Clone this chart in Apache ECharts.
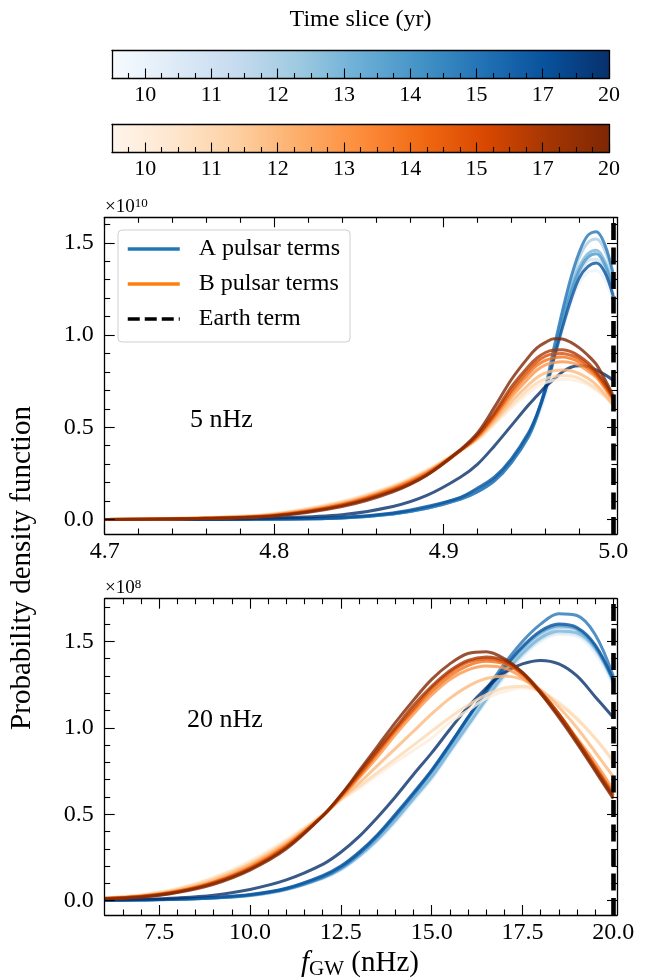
<!DOCTYPE html>
<html><head><meta charset="utf-8">
<script src="https://cdn.jsdelivr.net/npm/echarts@6/dist/echarts.min.js"></script>
<style>html,body{margin:0;padding:0;background:#fff}#c{width:647px;height:978px}</style>
</head><body><div id="c"></div>
<script>
// ---------------- data ----------------
const slices = [10, 11, 12, 13, 14, 15, 17, 20];          // colorbar tick labels (yr)
const cbTickPos = [2, 6, 10, 14, 18, 22, 26, 30];          // their positions along colorbar
const cbRange = [0, 30];
const earth5 = 5.0;
const earth20 = 20.0;

const f5 = [4.70, 4.76, 4.80, 4.84, 4.87, 4.89, 4.91, 4.92, 4.93, 4.94, 4.95, 4.955, 4.96, 4.965, 4.97, 4.975, 4.98, 4.985, 4.99, 4.995, 5.0];
const pdfA5 = [
  [0,0,0.002,0.008,0.03,0.06,0.11,0.15,0.21,0.31,0.44,0.54,0.67,0.85,1.02,1.17,1.28,1.34,1.35,1.30,1.18],
  [0,0,0.002,0.008,0.03,0.06,0.11,0.15,0.21,0.31,0.45,0.55,0.69,0.88,1.06,1.22,1.33,1.40,1.41,1.35,1.22],
  [0,0,0.002,0.008,0.03,0.06,0.11,0.15,0.21,0.31,0.45,0.56,0.71,0.91,1.11,1.28,1.42,1.50,1.52,1.46,1.31],
  [0,0,0.002,0.008,0.03,0.06,0.11,0.15,0.21,0.31,0.45,0.56,0.70,0.89,1.08,1.25,1.37,1.44,1.46,1.40,1.26],
  [0,0,0.002,0.009,0.032,0.065,0.12,0.16,0.22,0.32,0.46,0.57,0.71,0.89,1.07,1.23,1.35,1.42,1.44,1.38,1.25],
  [0,0,0.002,0.008,0.03,0.06,0.11,0.15,0.21,0.31,0.45,0.56,0.72,0.93,1.13,1.31,1.45,1.54,1.56,1.49,1.33],
  [0,0,0.003,0.01,0.035,0.07,0.12,0.17,0.23,0.33,0.47,0.57,0.70,0.87,1.04,1.19,1.31,1.37,1.39,1.34,1.21],
  [0,0.002,0.008,0.025,0.07,0.13,0.23,0.30,0.40,0.51,0.62,0.67,0.72,0.76,0.80,0.825,0.833,0.828,0.81,0.785,0.755]
];
const pdfB5 = [
  [0,0.011,0.033,0.10,0.185,0.27,0.375,0.43,0.515,0.605,0.685,0.72,0.742,0.755,0.76,0.758,0.748,0.73,0.70,0.665,0.62],
  [0,0.01,0.03,0.095,0.18,0.265,0.375,0.435,0.525,0.62,0.705,0.74,0.762,0.775,0.78,0.778,0.765,0.74,0.71,0.67,0.62],
  [0,0.009,0.028,0.09,0.175,0.26,0.375,0.44,0.535,0.64,0.73,0.77,0.795,0.806,0.81,0.806,0.79,0.765,0.73,0.68,0.62],
  [0,0.008,0.025,0.085,0.17,0.255,0.375,0.445,0.55,0.665,0.765,0.81,0.838,0.85,0.855,0.85,0.835,0.805,0.77,0.71,0.64],
  [0,0.007,0.023,0.08,0.165,0.25,0.375,0.45,0.56,0.685,0.79,0.835,0.862,0.876,0.88,0.872,0.853,0.82,0.78,0.72,0.65],
  [0,0.006,0.021,0.078,0.16,0.245,0.375,0.455,0.57,0.70,0.81,0.855,0.885,0.898,0.90,0.89,0.87,0.835,0.79,0.73,0.66],
  [0,0.006,0.02,0.075,0.155,0.24,0.375,0.46,0.58,0.72,0.83,0.875,0.905,0.918,0.92,0.91,0.885,0.85,0.80,0.74,0.66],
  [0,0.005,0.018,0.07,0.15,0.24,0.38,0.47,0.61,0.76,0.88,0.93,0.96,0.98,0.978,0.96,0.93,0.89,0.84,0.76,0.67]
];

const f20 = [6, 7, 8, 9, 10, 11, 12, 12.5, 13, 13.5, 14, 14.5, 15, 15.5, 16, 16.5, 17, 17.5, 18, 18.5, 19, 19.5, 20];
const pdfA20 = [
  [0.002,0.004,0.008,0.015,0.028,0.062,0.125,0.175,0.25,0.34,0.45,0.575,0.70,0.85,1.00,1.15,1.29,1.41,1.50,1.54,1.53,1.43,1.24],
  [0.002,0.004,0.008,0.015,0.029,0.064,0.13,0.18,0.255,0.35,0.46,0.585,0.71,0.86,1.01,1.16,1.30,1.42,1.51,1.55,1.54,1.45,1.26],
  [0.002,0.004,0.008,0.016,0.03,0.066,0.133,0.185,0.26,0.355,0.47,0.595,0.72,0.87,1.02,1.17,1.32,1.44,1.53,1.58,1.57,1.47,1.28],
  [0.002,0.004,0.008,0.016,0.03,0.065,0.131,0.182,0.258,0.352,0.465,0.59,0.715,0.865,1.015,1.165,1.31,1.43,1.52,1.56,1.55,1.46,1.27],
  [0.002,0.004,0.009,0.017,0.033,0.07,0.14,0.195,0.275,0.375,0.49,0.615,0.745,0.895,1.05,1.20,1.34,1.46,1.55,1.59,1.57,1.47,1.27],
  [0.002,0.004,0.008,0.016,0.031,0.067,0.135,0.19,0.27,0.37,0.49,0.615,0.75,0.90,1.06,1.22,1.37,1.50,1.60,1.66,1.65,1.54,1.30],
  [0.002,0.005,0.009,0.018,0.035,0.072,0.145,0.20,0.28,0.38,0.50,0.625,0.755,0.905,1.06,1.21,1.35,1.47,1.56,1.60,1.58,1.48,1.28],
  [0.004,0.008,0.016,0.032,0.065,0.12,0.21,0.28,0.37,0.48,0.60,0.73,0.855,0.99,1.12,1.23,1.32,1.37,1.39,1.37,1.30,1.18,1.06]
];
const pdfB20 = [
  [0.017,0.034,0.07,0.135,0.23,0.355,0.50,0.58,0.65,0.725,0.80,0.87,0.94,1.03,1.10,1.17,1.21,1.23,1.21,1.15,1.06,0.94,0.80],
  [0.016,0.032,0.067,0.13,0.22,0.345,0.495,0.585,0.66,0.74,0.82,0.90,0.98,1.06,1.13,1.19,1.23,1.24,1.21,1.14,1.05,0.94,0.81],
  [0.015,0.03,0.062,0.12,0.21,0.335,0.495,0.59,0.68,0.78,0.88,0.98,1.08,1.17,1.24,1.285,1.30,1.28,1.22,1.12,1.00,0.86,0.717],
  [0.013,0.026,0.056,0.11,0.20,0.325,0.49,0.595,0.71,0.83,0.96,1.08,1.19,1.28,1.335,1.357,1.345,1.29,1.20,1.08,0.94,0.80,0.64],
  [0.012,0.025,0.054,0.107,0.192,0.318,0.49,0.60,0.72,0.85,0.98,1.10,1.21,1.30,1.36,1.385,1.37,1.31,1.21,1.08,0.93,0.78,0.62],
  [0.012,0.024,0.052,0.104,0.187,0.312,0.49,0.605,0.73,0.86,0.99,1.11,1.23,1.32,1.38,1.40,1.38,1.31,1.20,1.07,0.92,0.76,0.60],
  [0.011,0.022,0.05,0.10,0.182,0.307,0.49,0.61,0.74,0.87,1.00,1.13,1.24,1.33,1.39,1.41,1.39,1.32,1.21,1.08,0.93,0.77,0.61],
  [0.01,0.02,0.047,0.095,0.177,0.30,0.49,0.61,0.75,0.89,1.03,1.16,1.28,1.37,1.43,1.44,1.40,1.32,1.20,1.06,0.91,0.75,0.59]
];

const ticks5X = [4.7, 4.8, 4.9, 5.0];
const ticks20X = [7.5, 10, 12.5, 15, 17.5, 20];
const ticksY = [0, 0.5, 1.0, 1.5];

// ---------------- style ----------------
const FONT = '"Liberation Serif", "DejaVu Serif", "Times New Roman", serif';
const BLUES = ['#f7fbff','#deebf7','#c6dbef','#9ecae1','#6baed6','#4292c6','#2171b5','#08519c','#08306b'];
const ORANGES = ['#fff5eb','#fee6ce','#fdd0a2','#fdae6b','#fd8d3c','#f16913','#d94801','#a63603','#7f2704'];
function hx(h){return [parseInt(h.slice(1,3),16),parseInt(h.slice(3,5),16),parseInt(h.slice(5,7),16)];}
function cmap(stops,t){
  const n=stops.length-1, p=Math.max(0,Math.min(1,t))*n, i=Math.min(Math.floor(p),n-1), f=p-i;
  const a=hx(stops[i]), b=hx(stops[i+1]);
  return 'rgb('+a.map((v,k)=>Math.round(v+(b[k]-v)*f)).join(',')+')';
}
function stopsOf(stops){return stops.map((c,i)=>({offset:i/(stops.length-1),color:c}));}
const span = cbRange[1]-cbRange[0];

const grids = [
  {left:112, top:50.5, width:497, height:28},
  {left:112, top:124.5, width:497, height:28},
  {left:104.7, top:217.3, width:512.3, height:316.7},
  {left:104.7, top:598.7, width:512.3, height:316.3}
];
const xAxes = [], yAxes = [];
const AX = '#000';
function r(v,d){const m=Math.pow(10,d);return Math.round(v*m)/m;}
const line = {show:true, onZero:false, lineStyle:{color:AX, width:1.3}};
// minor-tick axes keep an (invisible) axis line so they sit on the grid edge
const ghostLine = {show:true, onZero:false, lineStyle:{color:AX, width:1.3, opacity:0}};

function addPlotAxes(gi, xmin, xmax, xMaj, xMinStep, ymin, ymax){
  const xMin = []; for(let v=xmin; v<=xmax+1e-9; v+=xMinStep){const q=r(v,4); if(!xMaj.some(m=>Math.abs(m-q)<1e-6) && q>xmin+1e-6) xMin.push(q);}
  const yMin = []; for(let v=0.1; v<=ymax; v+=0.1){const q=r(v,4); if(!ticksY.some(m=>Math.abs(m-q)<1e-6)) yMin.push(q);}
  const base = {type:'value', gridIndex:gi, z:10, splitLine:{show:false}};
  const xi = xAxes.length;
  const lbl = {fontSize:24, fontFamily:FONT, color:'#000'};
  const majT = {show:true,inside:true,length:10,lineStyle:{color:AX,width:1.1}};
  const minT = {show:true,inside:true,length:5.5,lineStyle:{color:AX,width:1.1}};
  xAxes.push(Object.assign({}, base, {min:xmin, max:xmax, position:'bottom', axisLine:line,
    axisTick:Object.assign({customValues:xMaj}, majT),
    axisLabel:Object.assign({show:true,customValues:xMaj,margin:6,formatter:v=>Number(v).toFixed(1)},lbl)}));
  xAxes.push(Object.assign({}, base, {min:xmin, max:xmax, position:'bottom', axisLine:ghostLine,
    axisTick:Object.assign({customValues:xMin}, minT), axisLabel:{show:false}}));
  xAxes.push(Object.assign({}, base, {min:xmin, max:xmax, position:'top', axisLine:line,
    axisTick:Object.assign({customValues:xMaj}, majT), axisLabel:{show:false}}));
  xAxes.push(Object.assign({}, base, {min:xmin, max:xmax, position:'top', axisLine:ghostLine,
    axisTick:Object.assign({customValues:xMin}, minT), axisLabel:{show:false}}));
  const yi = yAxes.length;
  yAxes.push(Object.assign({}, base, {min:ymin, max:ymax, position:'left', axisLine:line,
    axisTick:Object.assign({customValues:ticksY}, majT),
    axisLabel:Object.assign({show:true,customValues:ticksY,margin:11,formatter:v=>Number(v).toFixed(1)},lbl)}));
  yAxes.push(Object.assign({}, base, {min:ymin, max:ymax, position:'left', axisLine:ghostLine,
    axisTick:Object.assign({customValues:yMin}, minT), axisLabel:{show:false}}));
  yAxes.push(Object.assign({}, base, {min:ymin, max:ymax, position:'right', axisLine:line,
    axisTick:Object.assign({customValues:ticksY}, majT), axisLabel:{show:false}}));
  yAxes.push(Object.assign({}, base, {min:ymin, max:ymax, position:'right', axisLine:ghostLine,
    axisTick:Object.assign({customValues:yMin}, minT), axisLabel:{show:false}}));
  return {xi, yi};
}
function addCbAxes(gi){
  const minor=[]; for(let v=cbRange[0]+1; v<cbRange[1]; v++){ if(cbTickPos.indexOf(v)<0) minor.push(v); }
  const base = {type:'value', gridIndex:gi, z:10, splitLine:{show:false}, min:cbRange[0], max:cbRange[1]};
  const xi = xAxes.length;
  xAxes.push(Object.assign({}, base, {position:'bottom', axisLine:line,
    axisTick:{show:true,inside:true,length:10,customValues:cbTickPos,lineStyle:{color:AX,width:1.1}},
    axisLabel:{show:true,customValues:cbTickPos,margin:6,fontSize:22,fontFamily:FONT,color:'#000',
      formatter:v=>String(slices[cbTickPos.indexOf(Math.round(v))])}}));
  xAxes.push(Object.assign({}, base, {position:'bottom', axisLine:ghostLine,
    axisTick:{show:true,inside:true,length:5.5,customValues:minor,lineStyle:{color:AX,width:1.1}}, axisLabel:{show:false}}));
  xAxes.push(Object.assign({}, base, {position:'top', axisLine:line, axisTick:{show:false}, axisLabel:{show:false}}));
  const yi = yAxes.length;
  const yb = {type:'value', gridIndex:gi, z:10, splitLine:{show:false}, min:0, max:1, axisTick:{show:false}, axisLabel:{show:false}};
  yAxes.push(Object.assign({}, yb, {position:'left', axisLine:line}));
  yAxes.push(Object.assign({}, yb, {position:'right', axisLine:line}));
  return {xi, yi};
}

const cb1 = addCbAxes(0), cb2 = addCbAxes(1);
const p1 = addPlotAxes(2, 4.7, 5.0022, ticks5X, 0.02, -0.079, 1.638);
const p2 = addPlotAxes(3, 6.0, 20.102, ticks20X, 0.5, -0.083, 1.747);

const series = [];
function cbSeries(ax, stops){
  series.push({type:'custom', xAxisIndex:ax.xi, yAxisIndex:ax.yi, silent:true, z:1,
    data:[[cbRange[0], cbRange[1]]],
    renderItem:function(params, api){
      const a = api.coord([api.value(0), 0]), b = api.coord([api.value(1), 1]);
      return {type:'rect', shape:{x:a[0], y:b[1], width:b[0]-a[0], height:a[1]-b[1]},
        style:{fill:new echarts.graphic.LinearGradient(0,0,1,0,stopsOf(stops))}};
    }});
}
cbSeries(cb1, BLUES); cbSeries(cb2, ORANGES);

function curves(ax, xs, rows, stops){
  rows.forEach((row, i) => {
    series.push({type:'line', xAxisIndex:ax.xi, yAxisIndex:ax.yi, silent:true, z:3,
      name:'slice'+slices[i], smooth:0.35, symbol:'none', showSymbol:false,
      data: xs.map((x,j)=>[x,row[j]]),
      lineStyle:{color:cmap(stops,(cbTickPos[i]-cbRange[0])/span), width:3, opacity:0.8}});
  });
}
curves(p1, f5, pdfA5, BLUES); curves(p1, f5, pdfB5, ORANGES);
curves(p2, f20, pdfA20, BLUES); curves(p2, f20, pdfB20, ORANGES);

function earth(ax, xv){
  series.push({type:'line', name:'Earth term', xAxisIndex:ax.xi, yAxisIndex:ax.yi, data:[], symbol:'none',
    color:'#000', lineStyle:{color:'#000', width:3.5, type:[12,5]},
    markLine:{silent:true, symbol:['none','none'], label:{show:false}, animation:false,
      lineStyle:{color:'#000', width:4.6, type:[17,7.5]}, data:[{xAxis:xv}]}});
}
earth(p1, earth5); earth(p2, earth20);
series.push({type:'line', name:'A pulsar terms', xAxisIndex:p1.xi, yAxisIndex:p1.yi, data:[], symbol:'none', color:'#1f77b4', lineStyle:{color:'#1f77b4', width:3.5}});
series.push({type:'line', name:'B pulsar terms', xAxisIndex:p1.xi, yAxisIndex:p1.yi, data:[], symbol:'none', color:'#ff7f0e', lineStyle:{color:'#ff7f0e', width:3.5}});

const chart = echarts.init(document.getElementById('c'), null, {renderer:'canvas'});
chart.setOption({
  animation:false,
  backgroundColor:'#fff',
  grid:grids,
  xAxis:xAxes, yAxis:yAxes,
  series:series,
  legend:{data:['A pulsar terms','B pulsar terms','Earth term'], orient:'vertical', left:118, top:230,
    padding:[5,10,9,8], itemGap:7, itemWidth:52, itemHeight:14, selectedMode:false,
    backgroundColor:'rgba(255,255,255,0.85)', borderColor:'#cfcfcf', borderWidth:1, borderRadius:4,
    itemStyle:{opacity:0}, lineStyle:{width:3.5},
    textStyle:{fontSize:24, fontFamily:FONT, color:'#000', lineHeight:28, padding:[0,0,0,14]}},
  graphic:[
    {type:'text', x:360.5, y:20, style:{text:'Time slice (yr)', fontSize:24, fontFamily:FONT, fill:'#000', align:'center', verticalAlign:'middle'}},
    {type:'text', x:190, y:420.6, style:{text:'5 nHz', fontSize:26, fontFamily:FONT, fill:'#000', align:'left', verticalAlign:'middle'}},
    {type:'text', x:187, y:720, style:{text:'20 nHz', fontSize:26, fontFamily:FONT, fill:'#000', align:'left', verticalAlign:'middle'}},
    {type:'text', x:105, y:207, style:{text:'×10{s|10}', fontSize:19, fontFamily:FONT, fill:'#000', align:'left', verticalAlign:'middle', lineHeight:20,
      rich:{s:{fontSize:13, fontFamily:FONT, fill:'#000', verticalAlign:'top', lineHeight:20}}}},
    {type:'text', x:105, y:588, style:{text:'×10{s|8}', fontSize:19, fontFamily:FONT, fill:'#000', align:'left', verticalAlign:'middle', lineHeight:20,
      rich:{s:{fontSize:13, fontFamily:FONT, fill:'#000', verticalAlign:'top', lineHeight:20}}}},
    {type:'text', x:22, y:568, rotation:Math.PI/2, style:{text:'Probability density function', fontSize:29, fontFamily:FONT, fill:'#000', align:'center', verticalAlign:'middle'}},
    {type:'text', x:360, y:963, style:{text:'{i|f}{s|GW} (nHz)', fontSize:29, fontFamily:FONT, fill:'#000', align:'center', verticalAlign:'middle', lineHeight:34,
      rich:{i:{fontSize:29, fontStyle:'italic', fontFamily:FONT, lineHeight:34}, s:{fontSize:21, fontFamily:FONT, verticalAlign:'bottom', lineHeight:34}}}}
  ]
});
</script></body></html>
